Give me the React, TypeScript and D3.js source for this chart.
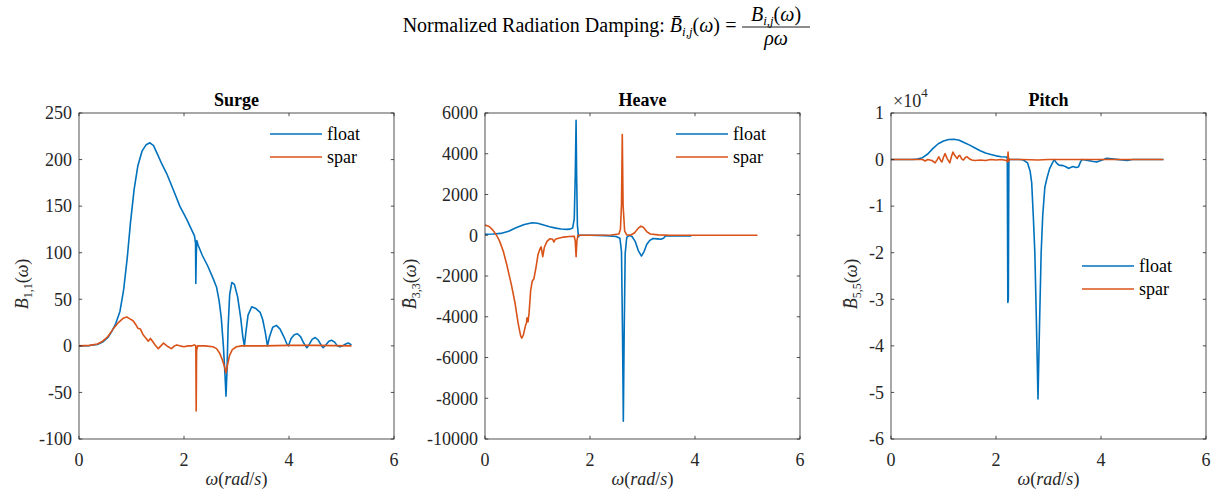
import React from "react";
import * as d3 from "d3";

type P = [number, number];

const xTicks = [0, 2, 4, 6];
const surgeTicks = [-100, -50, 0, 50, 100, 150, 200, 250];
const heaveTicks = [-10000, -8000, -6000, -4000, -2000, 0, 2000, 4000, 6000];
const pitchTicks = [-60000, -50000, -40000, -30000, -20000, -10000, 0, 10000];
const seriesNames = ["float", "spar"];

const surgeFloat: P[] = [
  [0, 0], [0.2, 0.3], [0.35, 1.5], [0.45, 4], [0.55, 9], [0.62, 15], [0.7, 24], [0.78, 37], [0.85, 60],
  [0.92, 95], [0.98, 132], [1.05, 168], [1.12, 193], [1.2, 209], [1.28, 216], [1.35, 218], [1.42, 215],
  [1.5, 205], [1.58, 195], [1.67, 185], [1.8, 167], [1.92, 150], [2.05, 136], [2.15, 124], [2.2, 118],
  [2.22, 110], [2.225, 67], [2.235, 100], [2.245, 113], [2.27, 108], [2.35, 97], [2.45, 86], [2.55, 73],
  [2.62, 63], [2.67, 48], [2.71, 30], [2.75, 0], [2.78, -30], [2.8, -54], [2.82, -25], [2.84, 20],
  [2.87, 55], [2.91, 68], [2.96, 66], [3.02, 53], [3.08, 30], [3.12, 10], [3.15, 0], [3.18, 15],
  [3.22, 33], [3.29, 42], [3.37, 40], [3.45, 36], [3.5, 28], [3.55, 14], [3.59, 0], [3.63, 10],
  [3.69, 20], [3.76, 22], [3.83, 18], [3.9, 10], [3.96, 2], [3.99, 0], [4.04, 8], [4.1, 12], [4.16, 13],
  [4.22, 10], [4.28, 3], [4.34, -2], [4.38, 1], [4.44, 7], [4.5, 9], [4.56, 6], [4.61, 1], [4.65, -2],
  [4.7, 1], [4.76, 5], [4.81, 6], [4.87, 4], [4.92, 0], [4.97, -1], [5.02, 0], [5.08, 2], [5.13, 3], [5.19, 1],
];
const surgeSpar: P[] = [
  [0, 0], [0.2, 0.5], [0.35, 2], [0.45, 5], [0.55, 10], [0.65, 18], [0.75, 25], [0.85, 30], [0.91, 31],
  [0.97, 29], [1.03, 27], [1.08, 23], [1.12, 19], [1.17, 18], [1.22, 12], [1.28, 8], [1.32, 5], [1.36, 8],
  [1.4, 5], [1.45, 1], [1.51, -3], [1.56, 0], [1.61, 3], [1.65, 1], [1.7, -1], [1.76, -3], [1.82, 0],
  [1.86, 1], [1.92, 0], [2.0, -1], [2.08, 0], [2.15, 0], [2.2, 1], [2.225, 0], [2.232, -70], [2.24, -5],
  [2.26, 0], [2.4, 0], [2.55, -1], [2.62, -3], [2.68, -8], [2.73, -15], [2.78, -24], [2.8, -29],
  [2.83, -20], [2.87, -10], [2.92, -4], [3.0, -1], [3.1, 0], [3.5, 0], [4.0, 0.5], [4.5, 0.5], [5.19, 0],
];

const heaveFloat: P[] = [
  [0, 50], [0.15, 60], [0.3, 90], [0.45, 200], [0.6, 380], [0.75, 530], [0.9, 610], [1.0, 590], [1.1, 520],
  [1.23, 420], [1.35, 350], [1.45, 310], [1.55, 290], [1.62, 300], [1.67, 360], [1.7, 800], [1.72, 3000],
  [1.735, 5640], [1.745, 3000], [1.76, 500], [1.78, -70], [1.8, 0], [2.0, 0], [2.3, -20], [2.5, -60],
  [2.57, -150], [2.6, -800], [2.62, -5000], [2.635, -9130], [2.65, -5000], [2.67, -900], [2.7, -100],
  [2.75, -10], [2.8, -60], [2.86, -300], [2.92, -750], [2.98, -1020], [3.03, -800], [3.08, -450],
  [3.14, -250], [3.2, -160], [3.28, -180], [3.35, -200], [3.4, -150], [3.44, -20], [3.5, -30], [3.7, -30], [3.93, -30],
];
const heaveSpar: P[] = [
  [0, 500], [0.08, 430], [0.15, 250], [0.22, 0], [0.28, -300], [0.35, -800], [0.42, -1500], [0.5, -2400],
  [0.57, -3300], [0.63, -4300], [0.68, -4950], [0.7, -5050], [0.73, -4900], [0.77, -4450], [0.79, -4300],
  [0.8, -4050], [0.82, -4250], [0.84, -3800], [0.87, -2700], [0.9, -2250], [0.93, -2150], [0.97, -1600],
  [1.01, -950], [1.05, -650], [1.07, -570], [1.1, -1050], [1.13, -600], [1.18, -300], [1.24, -170],
  [1.29, -200], [1.31, -330], [1.34, -200], [1.4, -150], [1.5, -90], [1.6, -60], [1.7, -50], [1.72, -300],
  [1.735, -1050], [1.75, -300], [1.77, 0], [2.0, 0], [2.4, 10], [2.55, 60], [2.58, 300], [2.6, 1500],
  [2.615, 4940], [2.63, 1500], [2.66, 200], [2.7, 20], [2.78, 10], [2.85, 120], [2.92, 350], [2.97, 450],
  [3.02, 380], [3.08, 180], [3.15, 60], [3.3, 20], [3.5, 0], [4.0, 0], [4.5, 0], [5.19, 0],
];

const pitchFloat: P[] = [
  [0, 0], [0.4, 0], [0.5, 100], [0.6, 400], [0.7, 1200], [0.8, 2400], [0.9, 3400], [1.0, 4000], [1.1, 4300],
  [1.2, 4350], [1.3, 4150], [1.4, 3600], [1.5, 3100], [1.6, 2500], [1.7, 1900], [1.8, 1400], [1.9, 1100],
  [2.0, 800], [2.1, 600], [2.2, 550], [2.215, 300], [2.225, -30700], [2.235, -30000], [2.245, 200],
  [2.26, 0], [2.45, 0], [2.52, -100], [2.6, -700], [2.65, -2500], [2.68, -5000], [2.71, -12000],
  [2.74, -20000], [2.77, -35000], [2.8, -51400], [2.83, -35000], [2.86, -20000], [2.89, -12000],
  [2.93, -6000], [2.97, -4000], [3.02, -2000], [3.07, -800], [3.11, 0], [3.15, -700], [3.2, -1200],
  [3.28, -1300], [3.34, -1600], [3.38, -1900], [3.42, -1700], [3.47, -1500], [3.52, -1700], [3.57, -1600],
  [3.61, -500], [3.64, 0], [3.75, -200], [3.85, -400], [3.92, -500], [3.97, -300], [4.05, 0], [4.11, 300],
  [4.25, 100], [4.5, -200], [4.6, 0], [5.0, 0], [5.19, 0],
];
const pitchSpar: P[] = [
  [0, 0], [0.6, 0], [0.65, -300], [0.7, 0], [0.78, -200], [0.84, -700], [0.88, 0], [0.91, 600],
  [0.95, -300], [0.97, -500], [1.0, 500], [1.03, 1300], [1.07, 200], [1.12, -700], [1.15, 600],
  [1.18, 1600], [1.22, 800], [1.26, 200], [1.29, 800], [1.31, 900], [1.35, 100], [1.38, -100],
  [1.42, 500], [1.45, 600], [1.5, 100], [1.54, -100], [1.6, -200], [1.7, -100], [1.8, -200], [1.9, 0],
  [2.0, -100], [2.1, 0], [2.2, -200], [2.22, -500], [2.23, 1600], [2.24, -300], [2.26, 0], [2.5, 0],
  [2.8, -100], [3.0, 0], [5.19, 0],
];

const BLUE = "#0072BD";
const ORANGE = "#D95319";
const AX = "#262626";
const FONT = "Liberation Serif, serif";

interface PanelDef {
  title: string;
  left: number;
  yDomain: [number, number];
  yTicks: number[];
  fmt: (v: number) => string;
  sub: string;
  bar: boolean;
  labelX: number;
  float: P[];
  spar: P[];
  legend: [number, number];
  exponent?: boolean;
}

const panels: PanelDef[] = [
  { title: "Surge", left: 79, yDomain: [-100, 250], yTicks: surgeTicks, fmt: (v) => String(v), sub: "1,1", bar: false, labelX: 22, float: surgeFloat, spar: surgeSpar, legend: [270, 134] },
  { title: "Heave", left: 485, yDomain: [-10000, 6000], yTicks: heaveTicks, fmt: (v) => String(v), sub: "3,3", bar: true, labelX: 410, float: heaveFloat, spar: heaveSpar, legend: [676, 134] },
  { title: "Pitch", left: 891, yDomain: [-60000, 10000], yTicks: pitchTicks, fmt: (v) => String(v / 10000), sub: "5,5", bar: true, labelX: 851, float: pitchFloat, spar: pitchSpar, legend: [1082, 266], exponent: true },
];

const TOP = 113;
const H = 326;
const W = 315;
const TL = 3.2;

function Panel({ p }: { p: PanelDef }) {
  const x = d3.scaleLinear().domain([0, 6]).range([p.left, p.left + W]);
  const y = d3.scaleLinear().domain(p.yDomain).range([TOP + H, TOP]);
  const line = d3.line<P>().x((d) => x(d[0])).y((d) => y(d[1]));
  const cx = p.left + W / 2;
  const cy = TOP + H / 2;
  return (
    <g>
      <path d={line(p.float) || ""} fill="none" stroke={BLUE} strokeWidth={1.6} strokeLinejoin="round" />
      <path d={line(p.spar) || ""} fill="none" stroke={ORANGE} strokeWidth={1.6} strokeLinejoin="round" />
      <rect x={p.left} y={TOP} width={W} height={H} fill="none" stroke={AX} strokeWidth={0.8} />
      {xTicks.map((t) => (
        <g key={"x" + t}>
          <line x1={x(t)} x2={x(t)} y1={TOP + H} y2={TOP + H - TL} stroke={AX} strokeWidth={0.8} />
          <line x1={x(t)} x2={x(t)} y1={TOP} y2={TOP + TL} stroke={AX} strokeWidth={0.8} />
          <text x={x(t)} y={466} textAnchor="middle" fontSize={18} fill={AX} fontFamily={FONT}>{t}</text>
        </g>
      ))}
      {p.yTicks.map((t) => (
        <g key={"y" + t}>
          <line x1={p.left} x2={p.left + TL} y1={y(t)} y2={y(t)} stroke={AX} strokeWidth={0.8} />
          <line x1={p.left + W} x2={p.left + W - TL} y1={y(t)} y2={y(t)} stroke={AX} strokeWidth={0.8} />
          <text x={p.left - 7} y={y(t)} dy="0.35em" textAnchor="end" fontSize={18} fill={AX} fontFamily={FONT}>{p.fmt(t)}</text>
        </g>
      ))}
      <text x={cx} y={106} textAnchor="middle" fontSize={18} fontWeight="bold" fill="#000" fontFamily={FONT}>{p.title}</text>
      <text x={cx} y={485} textAnchor="middle" fontSize={18} fill={AX} fontFamily={FONT}>
        <tspan fontStyle="italic">ω</tspan>(<tspan fontStyle="italic">rad</tspan>/<tspan fontStyle="italic">s</tspan>)
      </text>
      <text transform={`translate(${p.labelX},${cy + 8}) rotate(-90)`} textAnchor="middle" dy="0.35em" fontSize={18} fill={AX} fontFamily={FONT}>
        <tspan fontStyle="italic">{p.bar ? "B\u0304" : "B"}</tspan>
        <tspan fontSize={12} dy={4}>{p.sub}</tspan>
        <tspan dy={-4}>(</tspan><tspan fontStyle="italic">ω</tspan>)
      </text>
      {p.exponent && (
        <text x={p.left + 2} y={107} fontSize={18} fill={AX} fontFamily={FONT}>
          ×10<tspan fontSize={13} dy={-10}>4</tspan>
        </text>
      )}
      {seriesNames.map((n, i) => (
        <g key={n}>
          <line x1={p.legend[0]} x2={p.legend[0] + 52} y1={p.legend[1] + i * 23} y2={p.legend[1] + i * 23} stroke={i === 0 ? BLUE : ORANGE} strokeWidth={1.6} />
          <text x={p.legend[0] + 57} y={p.legend[1] + i * 23} dy="0.32em" fontSize={18} fill="#000" fontFamily={FONT}>{n}</text>
        </g>
      ))}
    </g>
  );
}

export default function App() {
  return (
    <svg width={1217} height={494} style={{ position: "absolute", left: 0, top: 0, background: "#fff" }}>
      <rect width={1217} height={494} fill="#fff" />
      <text x={720} y={32} textAnchor="end" fontSize={20} fill="#000" fontFamily={FONT}>
        Normalized Radiation Damping:{" "}
        <tspan fontStyle="italic">{"B\u0304"}</tspan>
        <tspan fontSize={13} dy={4} fontStyle="italic">i,j</tspan>
        <tspan dy={-4}>(</tspan><tspan fontStyle="italic">ω</tspan>)
      </text>
      <text x={731} y={32} textAnchor="middle" fontSize={20} fill="#000" fontFamily={FONT}>=</text>
      <text x={776} y={21} textAnchor="middle" fontSize={20} fill="#000" fontFamily={FONT}>
        <tspan fontStyle="italic">B</tspan>
        <tspan fontSize={13} dy={4} fontStyle="italic">i,j</tspan>
        <tspan dy={-4}>(</tspan><tspan fontStyle="italic">ω</tspan>)
      </text>
      <line x1={742} x2={810} y1={27} y2={27} stroke="#000" strokeWidth={0.9} />
      <text x={776} y={45} textAnchor="middle" fontSize={20} fill="#000" fontFamily={FONT}>
        <tspan fontStyle="italic">ρω</tspan>
      </text>
      {panels.map((p) => (
        <Panel key={p.title} p={p} />
      ))}
    </svg>
  );
}
